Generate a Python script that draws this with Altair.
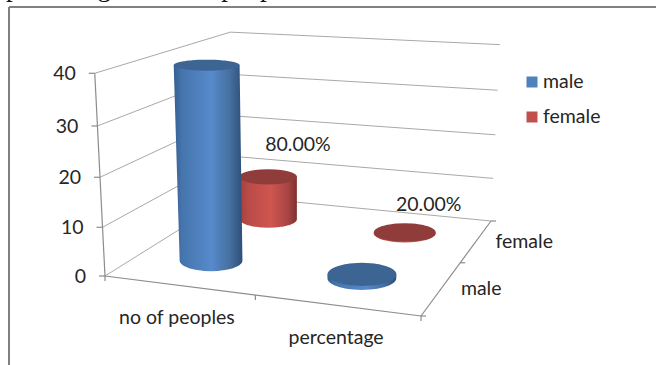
import altair as alt
import numpy as np
import pandas as pd

# Chart values
categories = ["no of peoples", "percentage"]
series = ["male", "female"]
male_values = [40, 0.8]
female_values = [10, 0.2]
z_ticks = [0, 10, 20, 30, 40]
heading = "percentage of these people"

WIDTH, HEIGHT = 656, 365
GRID = "#a8a8a8"
AXIS = "#8c8c8c"
TEXT = "#262626"
FONT = "Lato"
LABEL_SIZE = 19.5

# Camera for the 3D box: floor corners and the raised corners, in canvas units
floor = np.array([[105, 276], [421, 316], [491, 221], [233, 196]], float)
floor_uv = np.array([[0, 0], [1, 0], [1, 1], [0, 1]], float)
raised = {(0, 0): (95, 73), (1, 1): (500, 45), (0, 1): (230, 32)}


def fit_floor():
    rows, rhs = [], []
    for (u, v), (x, y) in zip(floor_uv, floor):
        rows.append([u, v, 1, 0, 0, 0, -u * x, -v * x])
        rhs.append(x)
        rows.append([0, 0, 0, u, v, 1, -u * y, -v * y])
        rhs.append(y)
    h = np.linalg.solve(np.array(rows), np.array(rhs))
    return np.append(h, 1).reshape(3, 3)


H = fit_floor()


def fit_lift():
    rows, rhs = [], []
    z = 40.0
    for (u, v), (x, y) in raised.items():
        p = H @ np.array([u, v, 1.0])
        rows.append([z, 0, -x * z])
        rhs.append(x * p[2] - p[0])
        rows.append([0, z, -y * z])
        rhs.append(y * p[2] - p[1])
    return np.linalg.lstsq(np.array(rows), np.array(rhs), rcond=None)[0]


C = fit_lift()


def project(u, v, z=0.0):
    p = H @ np.array([u, v, 1.0]) + z * C
    return p[0] / p[2], p[1] / p[2]


X = alt.Scale(domain=[0, WIDTH], range=[0, WIDTH], nice=False, zero=False)
Y = alt.Scale(domain=[0, HEIGHT], range=[0, HEIGHT], nice=False, zero=False)


def rules(segments, color, width=1.0):
    df = pd.DataFrame(segments, columns=["x", "y", "x2", "y2"])
    return alt.Chart(df).mark_rule(color=color, strokeWidth=width).encode(
        x=alt.X("x:Q", scale=X, axis=None),
        y=alt.Y("y:Q", scale=Y, axis=None),
        x2="x2:Q",
        y2="y2:Q",
    )


def texts(rows, align="center", size=LABEL_SIZE, font=FONT, color=TEXT):
    df = pd.DataFrame(rows, columns=["x", "y", "label"])
    return alt.Chart(df).mark_text(
        align=align, baseline="middle", fontSize=size, font=font, color=color
    ).encode(
        x=alt.X("x:Q", scale=X, axis=None),
        y=alt.Y("y:Q", scale=Y, axis=None),
        text="label:N",
    )


def band(rows, fill):
    df = pd.DataFrame(rows, columns=["y", "x", "x2"])
    return alt.Chart(df).mark_area(orient="horizontal", color=fill, opacity=1).encode(
        y=alt.Y("y:Q", scale=Y, axis=None),
        x=alt.X("x:Q", scale=X, axis=None, stack=None),
        x2="x2:Q",
    )


def ellipse_at(u, v, z):
    """Canvas centre and radii of the circular end of a cylinder."""
    r_u, r_v = 0.11, 0.115
    cx, cy = project(u, v, z)
    xa, _ = project(u - r_u, v, z)
    xb, _ = project(u + r_u, v, z)
    _, ya = project(u, v - r_v, z)
    _, yb = project(u, v + r_v, z)
    return cx, cy, abs(xb - xa) / 2, abs(ya - yb) / 2


def cylinder(u, v, value, body_fill, cap_fill):
    bx, by, brx, bry = ellipse_at(u, v, 0.0)
    tx, ty, trx, try_ = ellipse_at(u, v, value)
    body = []
    for t in np.linspace(0, 1, 30):
        y = ty + (by - ty) * t
        cx = tx + (bx - tx) * t
        rx = trx + (brx - trx) * t
        body.append((y, cx - rx, cx + rx))
    for t in np.linspace(0, 1, 40)[1:]:
        half = brx * np.sqrt(max(0.0, 1 - t * t))
        body.append((by + bry * t, bx - half, bx + half))
    cap = []
    for t in np.linspace(-1, 1, 61):
        half = trx * np.sqrt(max(0.0, 1 - t * t))
        cap.append((ty + try_ * t, tx - half, tx + half))
    return [band(body, body_fill), band(cap, cap_fill)]


def shading(stops):
    return alt.Gradient(
        gradient="linear", x1=0, x2=1, y1=0, y2=0,
        stops=[alt.GradientStop(offset=o, color=c) for o, c in stops],
    )


BLUE_BODY = shading([(0, "#35608f"), (0.12, "#4675ad"), (0.55, "#568acb"),
                     (0.82, "#456f9f"), (1, "#2e4f78")])
RED_BODY = shading([(0, "#a23f3d"), (0.15, "#b84b48"), (0.55, "#d0554f"),
                    (0.85, "#a64543"), (1, "#7e3130")])
BLUE_CAP = "#3c6594"
RED_CAP = "#8f3c3a"

layers = []

# Clipped heading above the chart frame
layers.append(texts([(6, -12, heading)], align="left", size=27,
                    font="Liberation Serif", color="#111111"))

# Frame around the chart area, open on the right and at the bottom
layers.append(rules([(9, 7, WIDTH, 7), (9, 7, 9, HEIGHT)], "#808080", 2))

# Gridlines on the side and back walls
grid = []
for z in z_ticks:
    a = project(0, 0, z)
    b = project(0, 1, z)
    c = project(1, 1, z)
    grid.append((a[0], a[1], b[0], b[1]))
    grid.append((b[0], b[1], c[0], c[1]))
layers.append(rules(grid, GRID))

# Axis lines and tick marks
axes = []
p0, p40 = project(0, 0, 0), project(0, 0, 40)
axes.append((p0[0], p0[1], p40[0], p40[1]))
a, b, c = project(0, 0), project(1, 0), project(1, 1)
axes.append((a[0], a[1], b[0], b[1]))
axes.append((b[0], b[1], c[0], c[1]))
for z in z_ticks:
    p = project(0, 0, z)
    axes.append((p[0] - 6, p[1], p[0], p[1]))
for u in [0, 0.5, 1]:
    p = project(u, 0)
    axes.append((p[0], p[1], p[0], p[1] + 5))
for v in [0, 0.5, 1]:
    p = project(1, v)
    axes.append((p[0], p[1], p[0] + 5, p[1]))
layers.append(rules(axes, AXIS, 1.2))

# Cylinders, drawn from the back row forwards
slots_u = [0.245, 0.75]
for u, value in zip(slots_u, female_values):
    layers += cylinder(u, 0.75, value, RED_BODY, RED_CAP)
for u, value in zip(slots_u, male_values):
    layers += cylinder(u, 0.25, value, BLUE_BODY, BLUE_CAP)

# Axis labels
z_labels = []
for z in z_ticks:
    p = project(0, 0, z)
    z_labels.append((p[0] - 19, p[1] + 1, str(z)))
layers.append(texts(z_labels, align="right"))

cat_labels = []
for u, name in zip(slots_u, categories):
    p = project(u, 0)
    cat_labels.append((p[0], p[1] + 33, name))
layers.append(texts(cat_labels))

series_labels = []
for v, name in zip([0.25, 0.75], series):
    p = project(1, v)
    series_labels.append((p[0] + 19, p[1] + 1, name))
layers.append(texts(series_labels, align="left"))

# Value labels for the percentage row
value_labels = []
for v, value, (dx, dy) in zip([0.25, 0.75], [male_values[1], female_values[1]],
                              [(-64, -129), (24, -27)]):
    p = project(0.75, v, value)
    value_labels.append((p[0] + dx, p[1] + dy, f"{value * 100:.2f}%"))
layers.append(texts(value_labels))

# Legend
legend_df = pd.DataFrame({"name": series, "x": [532, 532], "y": [82, 117]})
layers.append(
    alt.Chart(legend_df).mark_square(size=121, opacity=1).encode(
        x=alt.X("x:Q", scale=X, axis=None),
        y=alt.Y("y:Q", scale=Y, axis=None),
        color=alt.Color("name:N", scale=alt.Scale(domain=series, range=["#4f81bd", "#c0504d"]), legend=None),
    )
)
layers.append(texts([(543, 82, series[0]), (543, 117, series[1])], align="left"))

chart = (
    alt.layer(*layers)
    .properties(width=WIDTH, height=HEIGHT, padding=0, background="white",
                autosize=alt.AutoSizeParams(type="none"))
    .configure_view(stroke=None)
    .resolve_scale(x="shared", y="shared")
)

chart.save("out.html", embed_options={"renderer": "svg", "actions": False})
